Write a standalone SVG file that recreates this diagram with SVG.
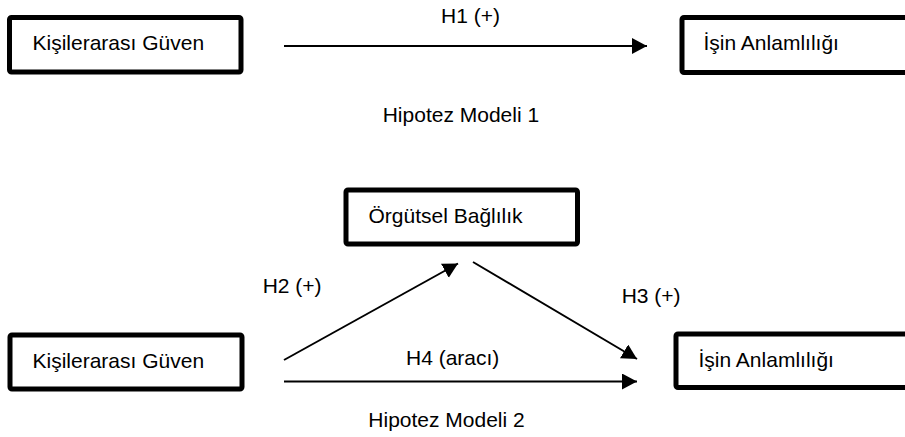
<svg xmlns="http://www.w3.org/2000/svg" width="905" height="437" viewBox="0 0 905 437">
  <style>
    .box { fill: #ffffff; stroke: #000000; stroke-width: 5; }
    .lbl { font-family: "Liberation Sans", Arial, sans-serif; font-size: 21px; fill: #000000; }
    .conn { stroke: #000000; stroke-width: 2; fill: none; marker-end: url(#arrow); }
  </style>
  <defs>
    <marker id="arrow" markerUnits="userSpaceOnUse" markerWidth="16" markerHeight="17" refX="15" refY="8" orient="auto">
      <path d="M0,0 L15,8 L0,16 Z" fill="#000000"/>
    </marker>
  </defs>
  <rect width="905" height="437" fill="#ffffff"/>

  <g id="node-kisilerarasi-guven-1">
    <rect class="box" x="9.5" y="17.5" width="231.5" height="54.5" rx="2"/>
    <text class="lbl" x="32.5" y="50">Kişilerarası Güven</text>
  </g>
  <g id="node-isin-anlamliligi-1">
    <rect class="box" x="682" y="17.5" width="240" height="55" rx="2"/>
    <text class="lbl" x="703.5" y="50">İşin Anlamlılığı</text>
  </g>
  <g id="node-orgutsel-baglilik">
    <rect class="box" x="346" y="190" width="231.5" height="54" rx="2"/>
    <text class="lbl" x="368.5" y="222.5">Örgütsel Bağlılık</text>
  </g>
  <g id="node-kisilerarasi-guven-2">
    <rect class="box" x="10" y="335" width="232" height="54" rx="2"/>
    <text class="lbl" x="32.5" y="368">Kişilerarası Güven</text>
  </g>
  <g id="node-isin-anlamliligi-2">
    <rect class="box" x="676" y="334" width="240" height="53.5" rx="2"/>
    <text class="lbl" x="698.5" y="366.5">İşin Anlamlılığı</text>
  </g>

  <g id="connectors">
    <line class="conn" x1="284" y1="46" x2="647" y2="46"/>
    <line class="conn" x1="284" y1="360" x2="458" y2="263.5"/>
    <line class="conn" x1="473" y1="262" x2="637" y2="359"/>
    <line class="conn" x1="284" y1="381.5" x2="637" y2="381.5"/>
  </g>

  <g id="labels">
    <text class="lbl" x="441" y="23.3">H1 (+)</text>
    <text class="lbl" x="382.7" y="122">Hipotez Modeli 1</text>
    <text class="lbl" x="262.7" y="293.3">H2 (+)</text>
    <text class="lbl" x="621.7" y="303.3">H3 (+)</text>
    <text class="lbl" x="406" y="364.5">H4 (aracı)</text>
    <text class="lbl" x="368.3" y="426.7">Hipotez Modeli 2</text>
  </g>
</svg>
